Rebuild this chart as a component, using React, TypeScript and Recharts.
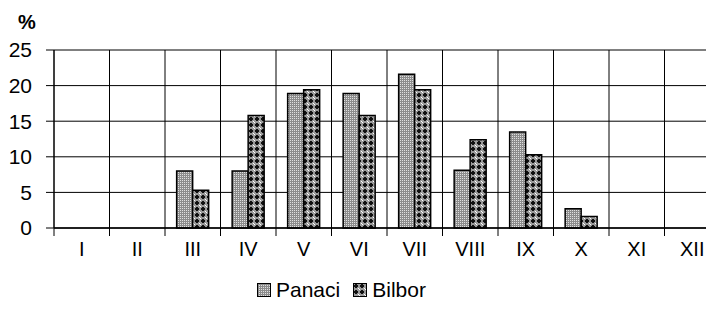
import React from 'react';
import { BarChart, Bar, XAxis, YAxis, CartesianGrid } from 'recharts';

const months = ['I', 'II', 'III', 'IV', 'V', 'VI', 'VII', 'VIII', 'IX', 'X', 'XI', 'XII'];
const panaci = [0, 0, 8.0, 8.0, 18.9, 18.9, 21.6, 8.1, 13.5, 2.7, 0, 0];
const bilbor = [0, 0, 5.3, 15.8, 19.4, 15.8, 19.4, 12.4, 10.3, 1.6, 0, 0];
const yTicks = [0, 5, 10, 15, 20, 25];

const data = months.map((m, i) => ({ month: m, Panaci: panaci[i], Bilbor: bilbor[i] }));

const FONT = '"Liberation Sans", Arial, sans-serif';
const W = 712;
const H = 312;
const LEFT = 46;
const TOP = 42;
const PLOT_W = W - LEFT;
const COL = PLOT_W / months.length;

const XTick = (props: any) => {
  const { x, y, payload } = props;
  const bx = x - COL / 2;
  return (
    <g>
      <line x1={bx} x2={bx} y1={y - 8} y2={y} stroke="#000" strokeWidth={1} />
      <text x={x} y={y + 20} textAnchor="middle" fontSize={20} fontFamily={FONT} fill="#000">
        {payload.value}
      </text>
    </g>
  );
};

const LegendBox = () => (
  <div
    style={{
      position: 'absolute',
      left: 249,
      top: 270,
      display: 'flex',
      alignItems: 'center',
      fontFamily: FONT,
      fontSize: 21,
      color: '#000',
      whiteSpace: 'nowrap',
    }}
  >
    <svg width={14} height={14} style={{ marginRight: 5 }}>
      <rect x={0.5} y={0.5} width={13} height={13} fill="url(#patPanaci)" stroke="#000" strokeWidth={1} />
    </svg>
    <span style={{ marginRight: 13 }}>Panaci</span>
    <svg width={14} height={14} style={{ marginRight: 5 }}>
      <rect x={0.5} y={0.5} width={13} height={13} fill="url(#patBilbor)" stroke="#000" strokeWidth={1} />
    </svg>
    <span>Bilbor</span>
  </div>
);

export default function App() {
  return (
    <div style={{ position: 'relative', width: 706, height: H, overflow: 'hidden' }}>
      <svg width={0} height={0} style={{ position: 'absolute' }}>
        <defs>
          <pattern id="patPanaci" width={2} height={2} patternUnits="userSpaceOnUse">
            <rect width={2} height={2} fill="#8c8c8c" />
            <rect x={0} y={0} width={1} height={1} fill="#e0e0e0" />
          </pattern>
          <pattern id="patBilbor" width={6} height={6} patternUnits="userSpaceOnUse">
            <rect width={6} height={6} fill="#9a9a9a" />
            <rect x={2} y={1} width={2} height={4} fill="#111" />
            <rect x={1} y={2} width={4} height={2} fill="#111" />
            <rect x={5} y={5} width={1} height={1} fill="#fff" />
            <rect x={0} y={0} width={1} height={1} fill="#fff" />
          </pattern>
        </defs>
      </svg>
      <div
        style={{
          position: 'absolute',
          left: 10,
          top: 3,
          fontFamily: FONT,
          fontWeight: 'bold',
          fontSize: 20,
          color: '#000',
        }}
      >
        %
      </div>
      <BarChart
        width={W}
        height={H}
        data={data}
        margin={{ top: TOP, right: 0, left: 0, bottom: 62 }}
        barCategoryGap="21%"
        barGap={0}
      >
        <CartesianGrid
          stroke="#000"
          strokeWidth={1}
          verticalCoordinatesGenerator={({ offset }: any) =>
            months.map((_, i) => offset.left + (i * offset.width) / months.length)
          }
        />
        <XAxis
          dataKey="month"
          height={30}
          axisLine={{ stroke: '#000', strokeWidth: 1.5 }}
          tickLine={false}
          tick={<XTick />}
          interval={0}
        />
        <YAxis
          width={LEFT}
          domain={[0, 25]}
          ticks={yTicks}
          axisLine={{ stroke: '#000' }}
          tickLine={{ stroke: '#000' }}
          tickSize={8}
          tickMargin={14}
          tick={{ fontSize: 21, fontFamily: FONT, fill: '#000' }}
          interval={0}
        />
        <Bar dataKey="Panaci" fill="url(#patPanaci)" stroke="#000" strokeWidth={1.5} isAnimationActive={false} />
        <Bar dataKey="Bilbor" fill="url(#patBilbor)" stroke="#000" strokeWidth={1.5} isAnimationActive={false} />
      </BarChart>
      <LegendBox />
    </div>
  );
}
